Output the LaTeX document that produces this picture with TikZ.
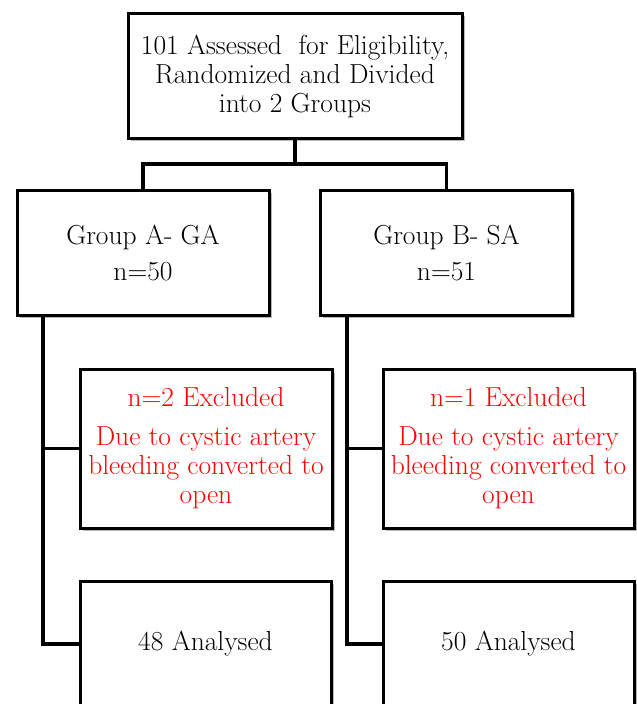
\documentclass[tikz,border=0pt]{standalone}
\usetikzlibrary{shadows}
\begin{document}
\begin{tikzpicture}[x=1pt,y=-1pt,
  box/.style={draw=black, line width=3pt, fill=white, align=center,
    inner sep=0pt, minimum width=252pt,
    font=\fontsize{27.5}{29}\selectfont,
    drop shadow={shadow xshift=2.5pt, shadow yshift=-2.5pt, fill=black!35, opacity=0.8}},
  redtxt/.style={text=red},
  conn/.style={draw=black, line width=3.5pt, line join=miter}]
\useasboundingbox (0,0) rectangle (637,704);
\node[box, minimum width=334pt, minimum height=125pt] (top) at (295,76)
  {101 Assessed\ \ for Eligibility,\\Randomized and Divided\\into 2 Groups};
\node[box, minimum height=125pt] (ga) at (143,252.5) {Group A- GA\\[7pt]n=50};
\node[box, minimum height=125pt] (gb) at (446.5,252.5) {Group B- SA\\[7pt]n=51};
\node[box, redtxt, minimum height=159pt] (exa) at (206,448.5)
  {n=2 Excluded\\[10pt]Due to cystic artery\\bleeding converted to\\open};
\node[box, redtxt, minimum width=251pt, minimum height=159pt] (exb) at (508.5,448.5)
  {n=1 Excluded\\[10pt]Due to cystic artery\\bleeding converted to\\open};
\node[box, minimum width=251pt, minimum height=126pt] (ana) at (205.5,644) {48 Analysed};
\node[box, minimum width=251pt, minimum height=126pt] (anb) at (508.5,644) {50 Analysed};
\coordinate (j) at (295,164);
\coordinate (ta) at (43,315);
\coordinate (tb) at (347,315);
\draw[conn] (top.south) -- (j);
\draw[conn] (ga.north) |- (j) -| (gb.north);
\draw[conn] (ta) |- (exa.west);
\draw[conn] (ta) |- (ana.west);
\draw[conn] (tb) |- (exb.west);
\draw[conn] (tb) |- (anb.west);
\end{tikzpicture}
\end{document}
